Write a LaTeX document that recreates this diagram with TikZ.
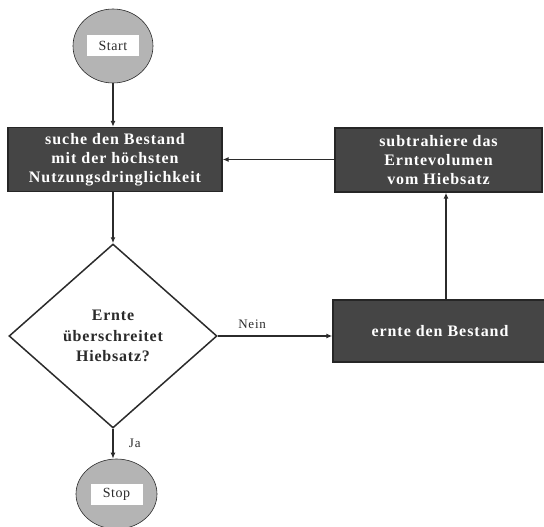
\documentclass[tikz,border=0pt]{standalone}
\usepackage{fontspec}
\setmainfont{Liberation Serif}
\usepackage{tikz}
\usetikzlibrary{arrows.meta,shapes.geometric}
\definecolor{boxfill}{HTML}{454545}
\definecolor{boxline}{HTML}{262626}
\definecolor{termfill}{HTML}{B4B4B4}
\definecolor{ink}{HTML}{2B2B2B}
\newcommand{\tracked}[1]{\addfontfeatures{LetterSpace=#1}}
\tikzset{
  task/.style    ={draw=boxline,line width=1.3pt,fill=boxfill,text=white,inner sep=0pt,
                   align=center,font=\fontsize{16}{19}\selectfont\bfseries\tracked{6}},
  decision/.style={diamond,draw=ink,line width=1.5pt,fill=white,inner sep=0pt,
                   minimum width=208pt,minimum height=184pt,text=ink,align=center,
                   font=\fontsize{16}{20.5}\selectfont\bfseries\tracked{5}},
  terminal/.style={ellipse,draw=ink,line width=0.6pt,fill=termfill,inner sep=0pt},
  tag/.style     ={fill=white,inner sep=0pt,minimum width=52pt,minimum height=21pt,
                   text=ink,font=\fontsize{14}{16}\selectfont\tracked{4}},
  answer/.style  ={text=ink,font=\fontsize{13}{15}\selectfont\tracked{6}},
  flow/.style    ={-{Latex[length=6pt,width=5pt]},line width=1.2pt,draw=ink}
}

\begin{document}
\begin{tikzpicture}[x=1pt,y=-1pt]
  \useasboundingbox (0,0) rectangle (544,527);
  % start and end points
  \node[terminal,minimum width=80pt,minimum height=74pt] (start) at (113,46) {};
  \node[tag] (starttag) at (start) {Start};
  \node[terminal,minimum width=81pt,minimum height=70pt] (stop) at (116.5,494) {};
  \node[tag] (stoptag) at (stop) {Stop};
  % process steps
  \node[task,minimum width=214pt,minimum height=64pt] (search) at (115,159.5)
    {suche den Bestand\\mit der höchsten\\Nutzungsdringlichkeit};
  \node[task,minimum width=207pt,minimum height=64pt] (subtract) at (438.5,160)
    {subtrahiere das\\Erntevolumen\\vom Hiebsatz};
  \node[task,minimum width=214pt,minimum height=62pt] (harvest) at (440,331)
    {ernte den Bestand};
  \node[decision] (check) at (113,336) {Ernte\\überschreitet\\Hiebsatz?};
  % connectors
  \draw[flow] (start) -- (start |- search.north);
  \draw[flow] (search.south -| check) -- (check.north);
  \draw[flow] (check.east) -- node[answer,pos=0.3,above=3pt] (nein) {Nein} (check.east -| harvest.west);
  \draw[flow] ([xshift=6pt]harvest.north) -- ([xshift=6pt]harvest.north |- subtract.south);
  \draw[flow] (subtract.west |- search.east) -- (search.east);
  \draw[flow] (check.south) -- node[answer,right=12pt] (ja) {Ja} (check.south |- stop.north);
\end{tikzpicture}
\end{document}
